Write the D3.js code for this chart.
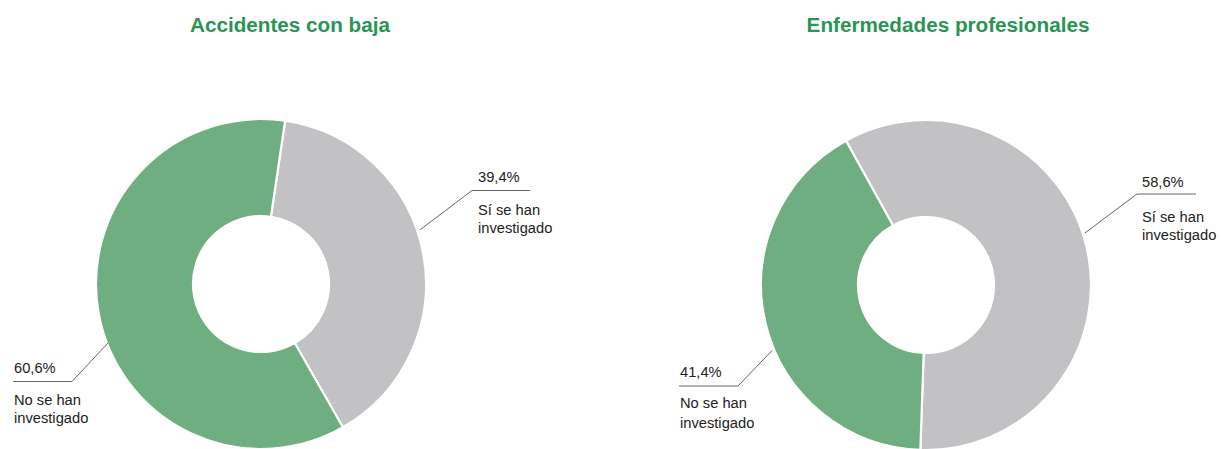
<!DOCTYPE html>
<html>
<head>
<meta charset="utf-8">
<script src="https://cdn.jsdelivr.net/npm/d3@7"></script>
<style>
  html, body { margin: 0; padding: 0; background: #fff; }
  svg { display: block; font-family: "Liberation Sans", Arial, Helvetica, sans-serif; }
</style>
</head>
<body>
<svg id="chart" width="1221" height="449"></svg>
<script>
// ---- data ----
const chartTitles = ["Accidentes con baja", "Enfermedades profesionales"];
const categories = ["Sí se han investigado", "No se han investigado"];
const categoryLines = [["Sí se han", "investigado"], ["No se han", "investigado"]];
const accidentesValues = [39.4, 60.6];
const enfermedadesValues = [58.6, 41.4];
const seriesValues = [accidentesValues, enfermedadesValues];
const valueLabels = [["39,4%", "60,6%"], ["58,6%", "41,4%"]];

// ---- layout ----
const colors = d3.scaleOrdinal().domain(categories).range(["#c2c2c4", "#6fae81"]);
const layout = [
  { cx: 261, cy: 284, titleX: 290, startDeg: 8.4,
    labels: [ { ang: 71.2, r: 168, elbowX: 472, elbowY: 190.5, endX: 530, textX: 478, pctY: 182, l1Y: 215, l2Y: 233 },
              { ang: 248.9, r: 164, elbowX: 72, elbowY: 381.5, endX: 13, textX: 14, pctY: 373, l1Y: 405, l2Y: 423 } ] },
  { cx: 926, cy: 285, titleX: 948, startDeg: -29,
    labels: [ { ang: 71.9, r: 167, elbowX: 1137, elbowY: 194, endX: 1196, textX: 1142, pctY: 187, l1Y: 222, l2Y: 240 },
              { ang: 247, r: 167, elbowX: 738, elbowY: 386, endX: 679, textX: 680, pctY: 377, l1Y: 408, l2Y: 428 } ] }
];
const outerR = 165, innerR = 68;

const svg = d3.select("#chart");

seriesValues.forEach((vals, i) => {
  const L = layout[i];
  svg.append("text")
    .attr("x", L.titleX).attr("y", 32)
    .attr("text-anchor", "middle")
    .attr("font-size", 20.7).attr("font-weight", "bold")
    .attr("fill", "#2a9455")
    .text(chartTitles[i]);

  const start = L.startDeg * Math.PI / 180;
  const pie = d3.pie().sort(null).startAngle(start).endAngle(start + 2 * Math.PI);
  const arc = d3.arc().innerRadius(innerR).outerRadius(outerR);
  const data = categories.map((c, k) => ({ cat: c, v: vals[k] }));
  const g = svg.append("g").attr("transform", `translate(${L.cx},${L.cy})`);
  g.selectAll("path").data(pie.value(d => d.v)(data)).join("path")
    .attr("d", arc)
    .attr("fill", d => colors(d.data.cat))
    .attr("stroke", "#fff").attr("stroke-width", 2.2);

  // labels
  L.labels.forEach((lb, k) => {
    const a = lb.ang * Math.PI / 180;
    const px = L.cx + lb.r * Math.sin(a), py = L.cy - lb.r * Math.cos(a);
    svg.append("polyline")
      .attr("points", `${px},${py} ${lb.elbowX},${lb.elbowY} ${lb.endX},${lb.elbowY}`)
      .attr("fill", "none").attr("stroke", "#555").attr("stroke-width", 0.9);
    const t = svg.append("g").attr("fill", "#222").attr("font-size", 14.7);
    t.append("text").attr("x", lb.textX).attr("y", lb.pctY).text(valueLabels[i][k]);
    t.append("text").attr("x", lb.textX).attr("y", lb.l1Y).text(categoryLines[k][0]);
    t.append("text").attr("x", lb.textX).attr("y", lb.l2Y).text(categoryLines[k][1]);
  });
});
</script>
</body>
</html>
